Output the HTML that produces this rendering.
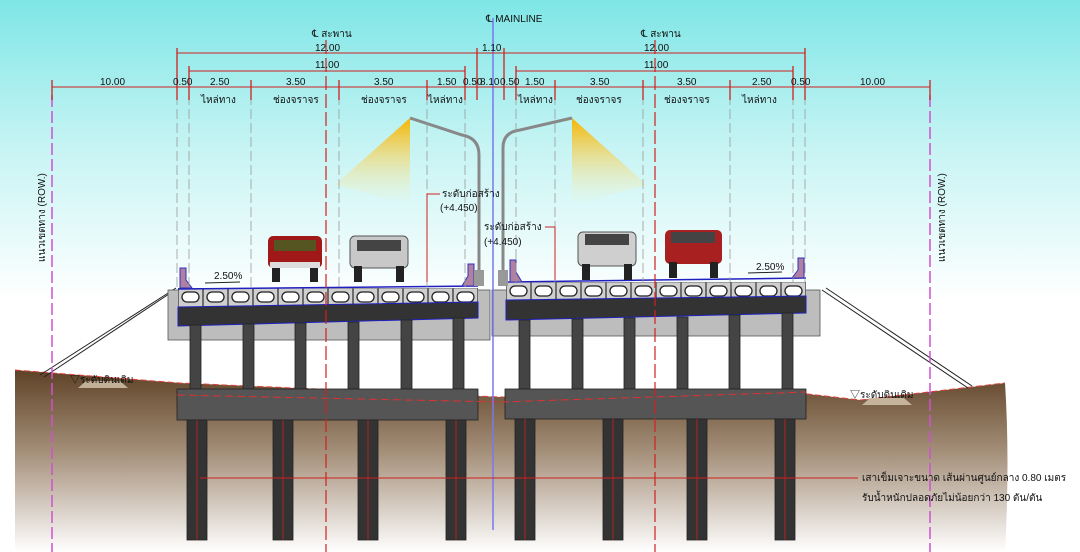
<!DOCTYPE html>
<html><head><meta charset="utf-8"><style>
html,body{margin:0;padding:0;background:#fff}
svg{display:block}
text{font-family:"Liberation Sans","Noto Sans CJK SC",sans-serif;font-size:10px;fill:#111}
</style></head><body>
<svg width="1080" height="552" viewBox="0 0 1080 552" xmlns="http://www.w3.org/2000/svg">
<defs>
<linearGradient id="sky" x1="0" y1="0" x2="0" y2="1">
<stop offset="0" stop-color="#7fe6e6"/><stop offset="0.5" stop-color="#c8f4f4"/><stop offset="1" stop-color="#ffffff"/>
</linearGradient>
<linearGradient id="soil" x1="0" y1="0" x2="0" y2="1">
<stop offset="0" stop-color="#5e4226"/><stop offset="0.45" stop-color="#a48f79"/><stop offset="1" stop-color="#ffffff"/>
</linearGradient>
<linearGradient id="cone" x1="0" y1="0" x2="0" y2="1">
<stop offset="0" stop-color="#f7b400"/><stop offset="1" stop-color="#fff2b0" stop-opacity="0"/>
</linearGradient>
<pattern id="box" x="178" y="288" width="25" height="19" patternUnits="userSpaceOnUse">
<rect x="0.5" y="0" width="24" height="19" fill="#cfcfcf" stroke="#555" stroke-width="0.8"/>
<rect x="4" y="4" width="17" height="10" rx="5" fill="#fff" stroke="#222" stroke-width="1.3"/>
</pattern>
<pattern id="box2" x="506" y="282" width="25" height="18" patternUnits="userSpaceOnUse">
<rect x="0.5" y="0" width="24" height="18" fill="#cfcfcf" stroke="#555" stroke-width="0.8"/>
<rect x="4" y="4" width="17" height="10" rx="5" fill="#fff" stroke="#222" stroke-width="1.3"/>
</pattern>
</defs>
<rect width="1080" height="552" fill="#fff"/>
<rect width="1080" height="300" fill="url(#sky)"/>
<!-- ground -->
<path d="M15,370 L180,383 L500,397 L808,394 L860,400 L1005,383 Q1010,460 1005,552 L15,552 Z" fill="url(#soil)"/>
<path d="M15,370 L180,383 L500,397 L808,394 L860,400 L1005,383" fill="none" stroke="#e04040" stroke-width="1" stroke-dasharray="6,3"/>
<!-- embankment lines -->
<path d="M176,288 L40,375 M172,292 L44,377" stroke="#222" stroke-width="1"/>
<path d="M822,290 L968,388 M826,288 L972,386" stroke="#222" stroke-width="1"/>
<!-- soil hatch -->
<path d="M78,388 L128,388 L120,381 L86,381Z" fill="#d8c8b0" opacity="0.8"/>
<path d="M862,405 L912,405 L904,398 L870,398Z" fill="#d8c8b0" opacity="0.8"/>
<text x="70" y="383">▽ระดับดินเดิม</text>
<text x="850" y="398">▽ระดับดินเดิม</text>

<!-- ROW lines -->
<line x1="52" y1="95" x2="52" y2="552" stroke="#d050d0" stroke-width="1.5" stroke-dasharray="12,4"/>
<line x1="930" y1="95" x2="930" y2="552" stroke="#d050d0" stroke-width="1.5" stroke-dasharray="12,4"/>
<text transform="translate(45,262) rotate(-90)" font-size="11">แนวเขตทาง (ROW.)</text>
<text transform="translate(945,262) rotate(-90)" font-size="11">แนวเขตทาง (ROW.)</text>

<!-- light cones -->
<path d="M410,118 L335,185 L410,205 Z" fill="url(#cone)"/>
<path d="M572,118 L647,185 L572,205 Z" fill="url(#cone)"/>

<!-- left bridge -->
<rect x="168" y="290" width="322" height="50" fill="#bdbdbd" stroke="#555" stroke-width="0.8"/>
<rect x="178" y="288" width="300" height="19" fill="url(#box)"/>
<path d="M178,307 L478,302 L478,318 L178,326 Z" fill="#333" stroke="#2020c0" stroke-width="1"/>
<line x1="178" y1="289" x2="478" y2="286" stroke="#2020c0" stroke-width="1.5"/>
<g fill="#444" stroke="#222" stroke-width="0.8">
<rect x="190" y="325" width="11" height="64"/><rect x="243" y="324" width="11" height="65"/>
<rect x="295" y="323" width="11" height="66"/><rect x="348" y="322" width="11" height="67"/>
<rect x="401" y="320" width="11" height="69"/><rect x="453" y="318" width="11" height="71"/>
<rect x="177" y="389" width="301" height="31" fill="#555"/>
<rect x="187" y="420" width="20" height="120" fill="#333"/><rect x="273" y="420" width="20" height="120" fill="#333"/>
<rect x="358" y="420" width="20" height="120" fill="#333"/><rect x="446" y="420" width="20" height="120" fill="#333"/>
</g>
<!-- right bridge -->
<rect x="492" y="290" width="328" height="46" fill="#bdbdbd" stroke="#555" stroke-width="0.8"/>
<rect x="506" y="282" width="300" height="18" fill="url(#box2)"/>
<path d="M506,300 L806,296 L806,313 L506,320 Z" fill="#333" stroke="#2020c0" stroke-width="1"/>
<line x1="506" y1="282" x2="806" y2="278" stroke="#2020c0" stroke-width="1.5"/>
<g fill="#444" stroke="#222" stroke-width="0.8">
<rect x="519" y="320" width="11" height="69"/><rect x="572" y="319" width="11" height="70"/>
<rect x="624" y="318" width="11" height="71"/><rect x="677" y="317" width="11" height="72"/>
<rect x="729" y="315" width="11" height="74"/><rect x="782" y="313" width="11" height="76"/>
<rect x="505" y="389" width="301" height="30" fill="#555"/>
<rect x="515" y="419" width="20" height="121" fill="#333"/><rect x="603" y="419" width="20" height="121" fill="#333"/>
<rect x="687" y="419" width="20" height="121" fill="#333"/><rect x="775" y="419" width="20" height="121" fill="#333"/>
</g>
<path d="M177,395 L500,402 L806,392" fill="none" stroke="#e03030" stroke-dasharray="8,4"/>
<!-- parapets -->
<g fill="#b080a0" stroke="#3030c0" stroke-width="1">
<path d="M180,288 L180,268 L186,268 L186,280 L192,288Z"/><path d="M474,286 L474,264 L468,264 L468,276 L462,286Z"/>
<path d="M510,282 L510,260 L516,260 L516,272 L522,282Z"/><path d="M804,278 L804,258 L798,258 L798,270 L792,278Z"/>
</g>
<!-- poles -->
<g fill="none" stroke="#888" stroke-width="3">
<path d="M479,285 L479,155 Q479,138 462,135 L410,118"/>
<path d="M503,285 L503,148 Q503,132 520,130 L572,118"/>
</g>
<rect x="474" y="270" width="10" height="16" fill="#999"/><rect x="498" y="270" width="10" height="16" fill="#999"/>
<!-- cars -->
<g>
<rect x="268" y="236" width="54" height="32" rx="5" fill="#a01818"/><rect x="274" y="240" width="42" height="11" fill="#552"/>
<rect x="272" y="266" width="8" height="16" fill="#222"/><rect x="310" y="266" width="8" height="16" fill="#222"/>
<rect x="270" y="262" width="50" height="6" fill="#ddd"/>
<rect x="350" y="236" width="58" height="32" rx="5" fill="#c8c8c8" stroke="#555"/><rect x="357" y="240" width="44" height="11" fill="#444"/>
<rect x="354" y="266" width="8" height="16" fill="#222"/><rect x="396" y="266" width="8" height="16" fill="#222"/>
<rect x="578" y="232" width="58" height="34" rx="5" fill="#cfcfcf" stroke="#555"/><rect x="585" y="234" width="44" height="11" fill="#444"/>
<rect x="582" y="264" width="8" height="16" fill="#222"/><rect x="624" y="264" width="8" height="16" fill="#222"/>
<rect x="665" y="230" width="57" height="34" rx="5" fill="#a82020"/><rect x="671" y="232" width="44" height="11" fill="#444"/>
<rect x="669" y="262" width="8" height="16" fill="#222"/><rect x="710" y="262" width="8" height="16" fill="#222"/>
</g>
<!-- slope labels -->
<text x="214" y="279">2.50%</text><line x1="205" y1="283" x2="240" y2="282" stroke="#222"/>
<text x="756" y="270">2.50%</text><line x1="748" y1="273" x2="782" y2="272" stroke="#222"/>

<!-- vertical guide lines -->
<g stroke="#999" stroke-width="0.8" stroke-dasharray="10,4">
<line x1="177" y1="95" x2="177" y2="288"/><line x1="189" y1="95" x2="189" y2="288"/><line x1="251" y1="95" x2="251" y2="288"/>
<line x1="339" y1="95" x2="339" y2="288"/><line x1="427" y1="95" x2="427" y2="288"/><line x1="465" y1="95" x2="465" y2="288"/>
<line x1="516" y1="95" x2="516" y2="282"/><line x1="555" y1="95" x2="555" y2="282"/><line x1="643" y1="95" x2="643" y2="282"/>
<line x1="730" y1="95" x2="730" y2="282"/><line x1="793" y1="95" x2="793" y2="282"/><line x1="805" y1="95" x2="805" y2="282"/>
</g>
<g stroke="#d02020" stroke-width="1.2" stroke-dasharray="14,4">
<line x1="326" y1="40" x2="326" y2="552"/><line x1="655" y1="40" x2="655" y2="552"/>
</g>
<line x1="493" y1="18" x2="493" y2="530" stroke="#7878f0" stroke-width="1.5"/>
<text x="486" y="22">℄ MAINLINE</text>

<!-- dimensions -->
<g stroke="#d02020" stroke-width="1">
<line x1="177" y1="53" x2="477" y2="53"/><line x1="504" y1="53" x2="805" y2="53"/>
<line x1="477" y1="53" x2="504" y2="53"/>
<line x1="189" y1="71" x2="465" y2="71"/><line x1="516" y1="71" x2="793" y2="71"/>
<line x1="52" y1="87" x2="930" y2="87"/>
<g stroke-width="1.3">
<line x1="52" y1="80" x2="52" y2="100"/><line x1="177" y1="48" x2="177" y2="100"/><line x1="189" y1="66" x2="189" y2="100"/>
<line x1="251" y1="80" x2="251" y2="100"/><line x1="339" y1="80" x2="339" y2="100"/><line x1="427" y1="80" x2="427" y2="100"/>
<line x1="465" y1="66" x2="465" y2="100"/><line x1="477" y1="48" x2="477" y2="100"/><line x1="504" y1="48" x2="504" y2="100"/>
<line x1="516" y1="66" x2="516" y2="100"/><line x1="555" y1="80" x2="555" y2="100"/><line x1="643" y1="80" x2="643" y2="100"/>
<line x1="730" y1="80" x2="730" y2="100"/><line x1="793" y1="66" x2="793" y2="100"/><line x1="805" y1="48" x2="805" y2="100"/>
<line x1="930" y1="80" x2="930" y2="100"/>
</g>
</g>
<text x="312" y="37">℄ สะพาน</text><text x="641" y="37">℄ สะพาน</text>
<text x="315" y="51">12.00</text><text x="644" y="51">12.00</text><text x="482" y="51">1.10</text>
<text x="315" y="68">11.00</text><text x="644" y="68">11.00</text>
<text x="100" y="85">10.00</text><text x="173" y="85">0.50</text><text x="210" y="85">2.50</text>
<text x="286" y="85">3.50</text><text x="374" y="85">3.50</text><text x="437" y="85">1.50</text>
<text x="463" y="85">0.50</text><text x="480" y="85">8.10</text><text x="500" y="85">0.50</text>
<text x="525" y="85">1.50</text><text x="590" y="85">3.50</text><text x="677" y="85">3.50</text>
<text x="752" y="85">2.50</text><text x="791" y="85">0.50</text><text x="860" y="85">10.00</text>
<text x="201" y="103">ไหล่ทาง</text><text x="273" y="103">ช่องจราจร</text><text x="361" y="103">ช่องจราจร</text>
<text x="428" y="103">ไหล่ทาง</text><text x="518" y="103">ไหล่ทาง</text><text x="576" y="103">ช่องจราจร</text>
<text x="664" y="103">ช่องจราจร</text><text x="742" y="103">ไหล่ทาง</text>

<!-- construction level labels -->
<polyline points="440,194 427,194 427,282" fill="none" stroke="#d02020"/>
<text x="442" y="197">ระดับก่อสร้าง</text><text x="440" y="211">(+4.450)</text>
<polyline points="545,227 555,227 555,280" fill="none" stroke="#d02020"/>
<text x="484" y="230">ระดับก่อสร้าง</text><text x="484" y="245">(+4.450)</text>

<!-- pile note -->
<line x1="200" y1="478" x2="858" y2="478" stroke="#d02020"/>
<text x="862" y="481">เสาเข็มเจาะขนาด เส้นผ่านศูนย์กลาง 0.80 เมตร</text>
<text x="862" y="501">รับน้ำหนักปลอดภัยไม่น้อยกว่า 130 ตัน/ตัน</text>
<g stroke="#d02020" stroke-width="0.8">
<line x1="197" y1="420" x2="197" y2="540"/><line x1="283" y1="420" x2="283" y2="540"/><line x1="368" y1="420" x2="368" y2="540"/><line x1="456" y1="420" x2="456" y2="540"/>
<line x1="525" y1="419" x2="525" y2="540"/><line x1="613" y1="419" x2="613" y2="540"/><line x1="697" y1="419" x2="697" y2="540"/><line x1="785" y1="419" x2="785" y2="540"/>
</g>
</svg>
</body></html>
